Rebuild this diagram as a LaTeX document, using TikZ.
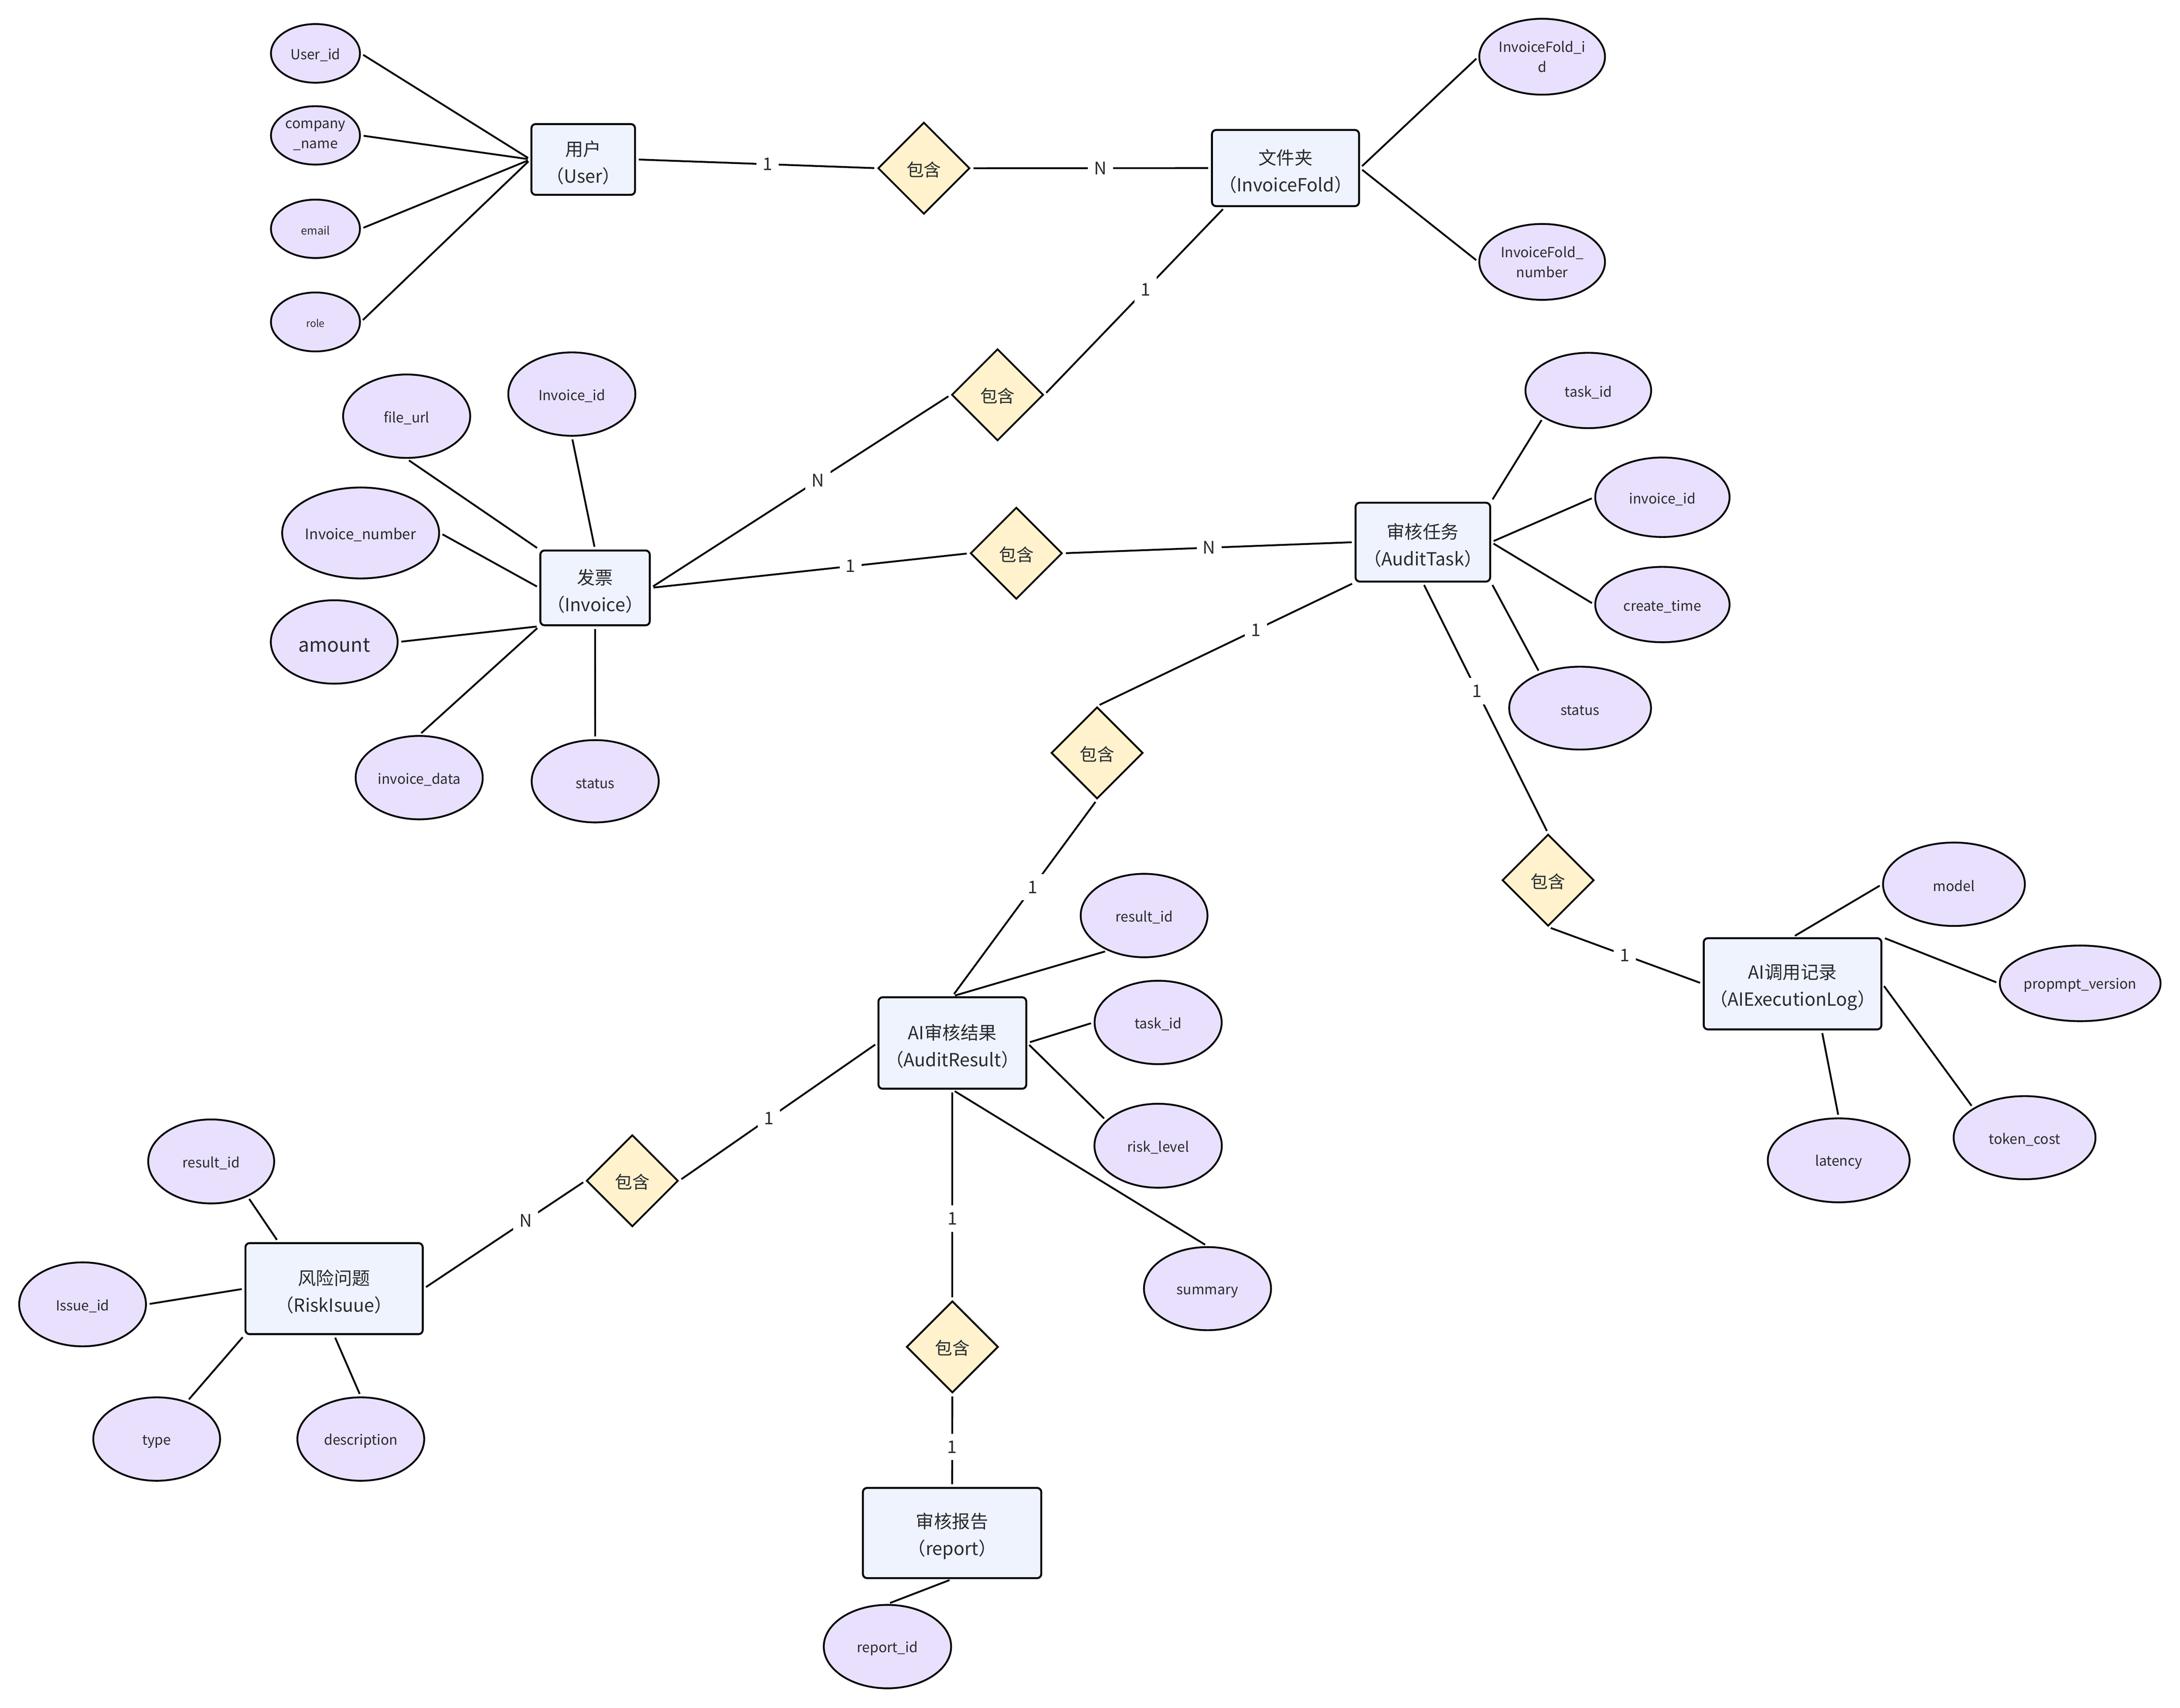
\documentclass[tikz,border=0pt]{standalone}
\usepackage{fontspec}
\setmainfont{Noto Sans CJK SC}
\usetikzlibrary{shapes.geometric,calc}
\definecolor{entfill}{HTML}{EEF3FD}
\definecolor{attfill}{HTML}{E8E0FD}
\definecolor{relfill}{HTML}{FFF2CC}
\definecolor{txt}{HTML}{2A2A30}
\newcommand\myentstrut{\rule{0pt}{15.5pt}}
\tikzset{
  ent/.style={draw=black, line width=1.4pt, fill=entfill, rectangle, rounded corners=3pt,
    inner sep=0pt, align=center, text=txt, font=\fontsize{13}{19.5}\selectfont},
  att/.style={draw=black, line width=1.3pt, fill=attfill, ellipse, inner sep=0pt,
    align=center, text=txt, font=\fontsize{10}{14.3}\selectfont,
    execute at begin node={\rule{0pt}{1.05em}}},
  rel/.style={draw=black, line width=1.3pt, fill=relfill, diamond, inner sep=0pt,
    minimum width=66pt, minimum height=66pt, text=txt, font=\fontsize{12.5}{15}\selectfont,
    execute at begin node={\rule{0pt}{1.0em}}},
  link/.style={draw=black, line width=1.3pt, shorten <=2pt, shorten >=2pt},
  card/.style={fill=white, text=txt, inner xsep=4.5pt, inner ysep=5pt,
    font=\fontsize{12.5}{15}\selectfont},
}
\begin{document}
\begin{tikzpicture}[x=1pt,y=-1pt]
\fill[white] (0,0) rectangle (1568,1228.45);
\useasboundingbox (0,0) rectangle (1568,1228.45);

% ---------- entities ----------
\node[ent, minimum width=74.5pt, minimum height=50.9pt] (user) at (419.5,114.7) {\myentstrut 用户\\（User）};
\node[ent, minimum width=105.8pt, minimum height=54.8pt] (ifold) at (924.6,120.9) {\myentstrut 文件夹\\（InvoiceFold）};
\node[ent, minimum width=78.7pt, minimum height=53.8pt] (inv) at (428,422.9) {\myentstrut 发票\\（Invoice）};
\node[ent, minimum width=96.8pt, minimum height=56.7pt] (task) at (1023.4,390) {\myentstrut 审核任务\\（AuditTask）};
\node[ent, minimum width=106.3pt, minimum height=65.8pt] (res) at (685,750.3) {\myentstrut AI审核结果\\（AuditResult）};
\node[ent, minimum width=127.8pt, minimum height=65.6pt] (log) at (1289.3,707.7) {\myentstrut AI调用记录\\（AIExecutionLog）};
\node[ent, minimum width=127.5pt, minimum height=65.5pt] (risk) at (240.3,927) {\myentstrut 风险问题\\（RiskIsuue）};
\node[ent, minimum width=128.3pt, minimum height=64.9pt] (rep) at (684.8,1102.8) {\myentstrut 审核报告\\（report）};

% ---------- relationships ----------
\node[rel] (d1) at (664.5,121) {包含};
\node[rel] (d2) at (717.5,284) {包含};
\node[rel] (d3) at (731,398) {包含};
\node[rel] (d4) at (789.1,541.6) {包含};
\node[rel] (d5) at (1113.5,633.2) {包含};
\node[rel] (d6) at (454.8,849.4) {包含};
\node[rel] (d7) at (685,968.9) {包含};

% ---------- attributes ----------
\node[att, minimum width=64pt, minimum height=42.2pt] (uid) at (226.9,38.4) {User\_id};
\node[att, minimum width=64pt, minimum height=42pt] (ucomp) at (226.9,97.4) {company\\\_name};
\node[att, minimum width=64pt, minimum height=42pt, font=\fontsize{8}{10}\selectfont] (uemail) at (226.9,164.6) {email};
\node[att, minimum width=64pt, minimum height=42.4pt, font=\fontsize{7.3}{9}\selectfont] (urole) at (226.9,231.6) {role};

\node[att, minimum width=90.4pt, minimum height=54.6pt] (ifid) at (1109.2,40.8) {InvoiceFold\_i\\d};
\node[att, minimum width=90.4pt, minimum height=54.6pt] (ifnum) at (1109.2,188.4) {InvoiceFold\_\\number};

\node[att, minimum width=91.4pt, minimum height=60pt] (fu) at (292.5,299.4) {file\_url};
\node[att, minimum width=91.4pt, minimum height=60pt] (iid) at (411.3,283.5) {Invoice\_id};
\node[att, minimum width=110pt, minimum height=65.4pt, font=\fontsize{10.5}{14}\selectfont] (inum) at (259.4,383.4) {Invoice\_number};
\node[att, minimum width=91.2pt, minimum height=60pt, font=\fontsize{14}{16}\selectfont] (amt) at (240.4,461.8) {amount};
\node[att, minimum width=91.4pt, minimum height=60pt] (idata) at (301.5,559.4) {invoice\_data};
\node[att, minimum width=91.4pt, minimum height=59.2pt] (ist) at (428.1,562) {status};

\node[att, minimum width=90.4pt, minimum height=54.2pt] (tid) at (1142.4,280.9) {task\_id};
\node[att, minimum width=96.6pt, minimum height=57.2pt] (tiid) at (1195.7,357.7) {invoice\_id};
\node[att, minimum width=96.6pt, minimum height=54.2pt] (tct) at (1195.7,434.9) {create\_time};
\node[att, minimum width=102pt, minimum height=59.6pt] (tst) at (1136.5,509.4) {status};

\node[att, minimum width=91.2pt, minimum height=60pt] (rid) at (822.9,658.6) {result\_id};
\node[att, minimum width=91.4pt, minimum height=60pt] (rtid) at (833,735.5) {task\_id};
\node[att, minimum width=91.6pt, minimum height=60.4pt] (rl) at (833,824.2) {risk\_level};
\node[att, minimum width=91.4pt, minimum height=59.8pt] (sum) at (868.5,927) {summary};

\node[att, minimum width=102pt, minimum height=60pt] (mdl) at (1405.4,636.1) {model};
\node[att, minimum width=115.6pt, minimum height=54.4pt] (pv) at (1496.2,707.4) {propmpt\_version};
\node[att, minimum width=102pt, minimum height=59.8pt] (tc) at (1456.2,818.4) {token\_cost};
\node[att, minimum width=102pt, minimum height=60.4pt] (lat) at (1322.5,834.7) {latency};

\node[att, minimum width=90.6pt, minimum height=60.4pt] (rrid) at (151.9,835.5) {result\_id};
\node[att, minimum width=91.2pt, minimum height=60.4pt] (iss) at (59.4,938.3) {Issue\_id};
\node[att, minimum width=91.2pt, minimum height=60pt] (typ) at (112.7,1035.2) {type};
\node[att, minimum width=91.2pt, minimum height=60pt] (desc) at (259.5,1035.2) {description};

\node[att, minimum width=91.6pt, minimum height=60pt] (rpid) at (638.3,1184.5) {report\_id};

% ---------- attribute links ----------
\draw[link] (uid.east) -- (user.west);
\draw[link] (ucomp.east) -- (user.west);
\draw[link] (uemail.east) -- (user.west);
\draw[link] (urole.east) -- (user.west);

\draw[link] (ifold.east) -- (ifid.west);
\draw[link] (ifold.east) -- (ifnum.west);

\draw[link] (fu.south) -- (inv.north west);
\draw[link] (iid.south) -- (inv.north);
\draw[link] (inum.east) -- (inv.west);
\draw[link] (amt.east) -- (inv.south west);
\draw[link] (idata.north) -- (inv.south west);
\draw[link] (ist.north) -- (inv.south);

\draw[link] (tid.211) -- (task.north east);
\draw[link] (tiid.west) -- (task.east);
\draw[link] (tct.west) -- (task.east);
\draw[link] (tst.139) -- (task.south east);

\draw[link] (rid.224) -- (res.north);
\draw[link] (rtid.west) -- (res.east);
\draw[link] (rl.154) -- (res.east);
\draw[link] (sum.north) -- (res.south);

\draw[link] (mdl.west) -- (log.north);
\draw[link] (pv.west) -- (log.north east);
\draw[link] (tc.150) -- (log.east);
\draw[link] (lat.north) -- ($(log.south)+(21,0)$);

\draw[link] (rrid.316) -- ($(risk.north)+(-40,0)$);
\draw[link] (iss.east) -- (risk.west);
\draw[link] (typ.51) -- (risk.south west);
\draw[link] (desc.north) -- (risk.south);

\draw[link] (rpid.north) -- (rep.south);

% ---------- relationship links ----------
\draw[link] (user.east) -- node[card, pos=0.546] (c1) {1} (d1.west);
\draw[link] (d1.east) -- node[card, pos=0.54] (c2) {N} (ifold.west);
\draw[link] ($(ifold.south west)+(10,0)$) -- node[card, pos=0.44] (c3) {1} (d2.east);
\draw[link] (d2.west) -- node[card, pos=0.443] (c4) {N} (inv.east);
\draw[link] (inv.east) -- node[card, pos=0.627] (c5) {1} (d3.west);
\draw[link] (d3.east) -- node[card, pos=0.501] (c6) {N} (task.west);
\draw[link] (task.south west) -- node[card, pos=0.383] (c7) {1} (d4.north);
\draw[link] (task.south) -- node[card, pos=0.433] (c8) {1} (d5.north);
\draw[link] (d4.south) -- node[card, pos=0.445] (c9) {1} (res.north);
\draw[link] (d5.south) -- node[card, pos=0.496] (c10) {1} (log.west);
\draw[link] (res.west) -- node[card, pos=0.547] (c11) {1} (d6.east);
\draw[link] (d6.west) -- node[card, pos=0.37] (c12) {N} (risk.east);
\draw[link] (res.south) -- node[card, pos=0.613] (c13) {1} (d7.north);
\draw[link] (d7.south) -- node[card, pos=0.572] (c14) {1} (rep.north);
\end{tikzpicture}
\end{document}
